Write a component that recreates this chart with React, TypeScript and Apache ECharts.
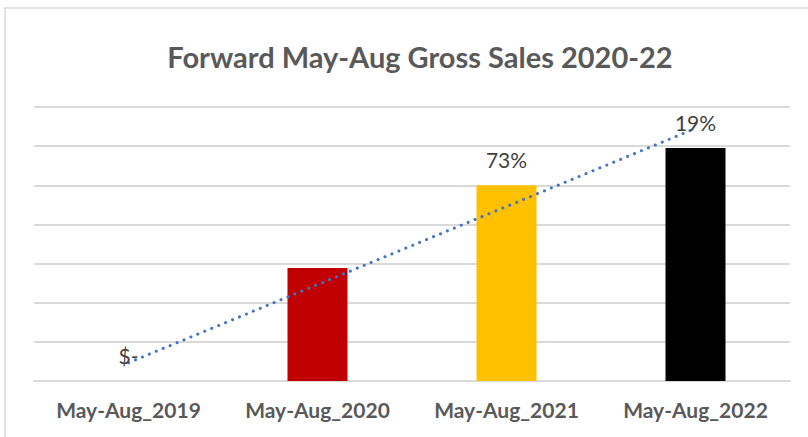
import React, { useEffect, useRef } from "react";
import * as echarts from "echarts";

const categories = ["May-Aug_2019", "May-Aug_2020", "May-Aug_2021", "May-Aug_2022"];
const salesValues = [0, 2.89, 5.0, 5.95];
const barColors = ["#7F7F7F", "#C00000", "#FFC000", "#000000"];
const barLabels = ["$-", "", "73%", "19%"];
const titleText = "Forward May-Aug Gross Sales 2020-22";

function linearTrend(values: number[]): number[] {
  const n = values.length;
  const xs = values.map((_, i) => i);
  const mx = xs.reduce((a, b) => a + b, 0) / n;
  const my = values.reduce((a, b) => a + b, 0) / n;
  let num = 0;
  let den = 0;
  xs.forEach((x, i) => {
    num += (x - mx) * (values[i] - my);
    den += (x - mx) * (x - mx);
  });
  const slope = num / den;
  const intercept = my - slope * mx;
  return xs.map((x) => +(intercept + slope * x).toFixed(4));
}

export default function App() {
  const ref = useRef<HTMLDivElement>(null);
  useEffect(() => {
    document.body.style.margin = "0";
    const chart = echarts.init(ref.current!, null, { renderer: "svg" });
    const trend = linearTrend(salesValues);
    chart.setOption({
      animation: false,
      backgroundColor: "#ffffff",
      title: {
        text: titleText,
        left: 415,
        top: 37,
        textAlign: "center",
        textStyle: {
          fontFamily: "Lato",
          fontWeight: "bold",
          fontSize: 29,
          color: "#595959",
        },
      },
      graphic: [
        {
          type: "rect",
          shape: { x: 5, y: 8, width: 820, height: 450 },
          style: { fill: "none", stroke: "#d9d9d9", lineWidth: 1.5 },
          silent: true,
        },
      ],
      grid: { left: 34, right: 18, top: 107, bottom: 56, containLabel: false },
      xAxis: {
        type: "category",
        data: categories,
        axisTick: { show: false },
        axisLine: { show: true, lineStyle: { color: "#d9d9d9", width: 2 } },
        axisLabel: {
          interval: 0,
          fontFamily: "Lato",
          fontWeight: "bold",
          fontSize: 21,
          color: "#595959",
          margin: 18,
        },
      },
      yAxis: {
        type: "value",
        min: 0,
        max: 7,
        interval: 1,
        axisLabel: { show: false },
        axisLine: { show: false },
        axisTick: { show: false },
        splitLine: { lineStyle: { color: "#d9d9d9", width: 2 } },
      },
      series: [
        {
          type: "bar",
          barWidth: 60,
          z: 2,
          data: salesValues.map((v, i) => ({
            value: v,
            itemStyle: { color: barColors[i] },
          })),
        },
        {
          type: "line",
          data: trend,
          symbol: "none",
          lineStyle: { color: "#4472C4", width: 3, type: [0.1, 7.4], cap: "round" },
          z: 3,
        },
        {
          type: "scatter",
          data: salesValues,
          symbolSize: 0,
          itemStyle: { opacity: 1 },
          z: 4,
          label: {
            show: true,
            position: "top",
            distance: 15,
            formatter: (p: any) => barLabels[p.dataIndex],
            fontFamily: "Lato",
            fontSize: 21,
            color: "#404040",
          },
        },
      ],
    });
    return () => chart.dispose();
  }, []);
  return <div ref={ref} style={{ width: 808, height: 437 }} />;
}
